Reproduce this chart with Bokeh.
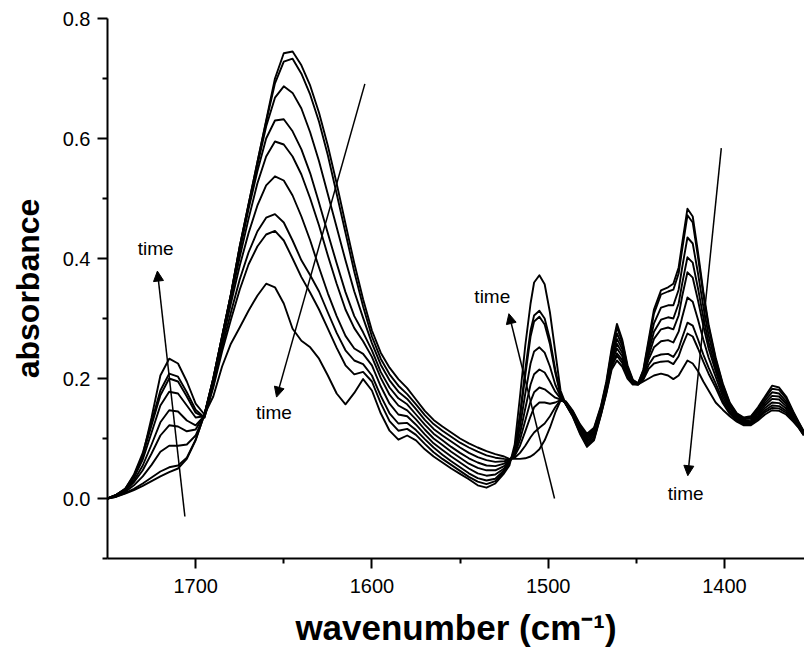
from bokeh.plotting import figure
from bokeh.models import Range1d, FixedTicker, PrintfTickFormatter, Arrow, NormalHead, Label
from bokeh.embed import file_html
from bokeh.resources import INLINE

# wavenumber grid (cm-1)
wavenumber = [1750, 1745, 1740, 1735, 1730, 1725, 1720, 1715, 1710, 1705, 1700,
              1695, 1690, 1685, 1680, 1675, 1670, 1665, 1660, 1655, 1650,
              1645, 1640, 1635, 1630, 1625, 1620, 1615, 1610, 1605, 1600,
              1595, 1590, 1585, 1580, 1575, 1570, 1565, 1560, 1555, 1550,
              1545, 1540, 1535, 1530, 1525,
              1522, 1519, 1516, 1513, 1510, 1508, 1505, 1502, 1499, 1496, 1493,
              1490, 1486, 1482, 1478, 1474, 1470, 1467, 1464, 1461,
              1458, 1455, 1452, 1449, 1446, 1443, 1440,
              1436, 1432, 1429, 1426, 1424, 1421,
              1418, 1415, 1412, 1409, 1405, 1401,
              1397, 1393, 1389, 1385, 1381, 1377,
              1373, 1369, 1365, 1361, 1358, 1355]

spec_1 = [0.000, 0.003, 0.008, 0.014, 0.021, 0.029, 0.037, 0.044, 0.050, 0.066, 0.097,
          0.140, 0.200, 0.270, 0.340, 0.420, 0.490, 0.560, 0.630, 0.700, 0.742,
          0.745, 0.722, 0.688, 0.643, 0.588, 0.525, 0.458, 0.392, 0.332, 0.280,
          0.243, 0.218, 0.199, 0.184, 0.165, 0.146, 0.131, 0.120, 0.110, 0.100,
          0.092, 0.085, 0.079, 0.074, 0.070,
          0.066, 0.066, 0.066, 0.067, 0.070, 0.074, 0.082, 0.097, 0.118, 0.143, 0.163,
          0.162, 0.146, 0.124, 0.108, 0.118, 0.155, 0.195, 0.250, 0.291,
          0.265, 0.222, 0.198, 0.192, 0.215, 0.265, 0.315,
          0.347, 0.352, 0.358, 0.385, 0.425, 0.483,
          0.470, 0.410, 0.345, 0.290, 0.235, 0.192,
          0.160, 0.142, 0.135, 0.137, 0.152, 0.170,
          0.188, 0.185, 0.170, 0.145, 0.128, 0.112]

spec_2 = [0.000, 0.003, 0.009, 0.016, 0.025, 0.035, 0.045, 0.052, 0.055, 0.068, 0.098,
          0.140, 0.200, 0.270, 0.340, 0.420, 0.490, 0.560, 0.628, 0.692, 0.728,
          0.733, 0.708, 0.673, 0.628, 0.572, 0.508, 0.443, 0.378, 0.320, 0.270,
          0.233, 0.207, 0.188, 0.174, 0.157, 0.139, 0.124, 0.113, 0.103, 0.093,
          0.085, 0.078, 0.072, 0.068, 0.066,
          0.065, 0.068, 0.076, 0.088, 0.102, 0.110, 0.118, 0.125, 0.137, 0.152, 0.164,
          0.161, 0.145, 0.122, 0.105, 0.116, 0.153, 0.192, 0.245, 0.285,
          0.261, 0.219, 0.197, 0.192, 0.213, 0.260, 0.308,
          0.340, 0.345, 0.348, 0.375, 0.415, 0.472,
          0.460, 0.402, 0.340, 0.286, 0.232, 0.190,
          0.158, 0.141, 0.134, 0.136, 0.150, 0.167,
          0.183, 0.181, 0.167, 0.143, 0.127, 0.111]

spec_3 = [0.000, 0.004, 0.011, 0.022, 0.037, 0.056, 0.078, 0.088, 0.088, 0.090, 0.105,
          0.140, 0.200, 0.270, 0.340, 0.418, 0.488, 0.555, 0.620, 0.668, 0.687,
          0.676, 0.650, 0.610, 0.562, 0.507, 0.452, 0.397, 0.345, 0.301, 0.259,
          0.223, 0.197, 0.178, 0.166, 0.149, 0.131, 0.116, 0.105, 0.095, 0.085,
          0.076, 0.069, 0.064, 0.061, 0.062,
          0.064, 0.071, 0.088, 0.112, 0.137, 0.152, 0.160, 0.160, 0.158, 0.160, 0.164,
          0.160, 0.143, 0.120, 0.102, 0.113, 0.151, 0.189, 0.240, 0.275,
          0.255, 0.216, 0.196, 0.191, 0.210, 0.252, 0.292,
          0.318, 0.322, 0.322, 0.348, 0.385, 0.435,
          0.425, 0.375, 0.320, 0.272, 0.225, 0.185,
          0.155, 0.139, 0.132, 0.134, 0.147, 0.163,
          0.177, 0.175, 0.162, 0.140, 0.125, 0.110]

spec_4 = [0.000, 0.005, 0.013, 0.027, 0.047, 0.075, 0.105, 0.122, 0.120, 0.112, 0.115,
          0.140, 0.198, 0.268, 0.338, 0.412, 0.482, 0.545, 0.600, 0.630, 0.632,
          0.612, 0.582, 0.542, 0.493, 0.442, 0.392, 0.344, 0.304, 0.277, 0.247,
          0.211, 0.185, 0.167, 0.157, 0.140, 0.123, 0.108, 0.097, 0.086, 0.076,
          0.067, 0.060, 0.055, 0.054, 0.058,
          0.063, 0.073, 0.098, 0.130, 0.162, 0.177, 0.185, 0.182, 0.175, 0.168, 0.165,
          0.159, 0.142, 0.118, 0.099, 0.110, 0.149, 0.186, 0.235, 0.266,
          0.249, 0.213, 0.195, 0.191, 0.207, 0.245, 0.278,
          0.298, 0.302, 0.300, 0.325, 0.358, 0.402,
          0.393, 0.350, 0.302, 0.260, 0.218, 0.180,
          0.152, 0.137, 0.130, 0.131, 0.144, 0.159,
          0.171, 0.170, 0.158, 0.138, 0.123, 0.109]

spec_5 = [0.000, 0.005, 0.014, 0.030, 0.055, 0.090, 0.127, 0.147, 0.145, 0.130, 0.122,
          0.138, 0.196, 0.266, 0.334, 0.402, 0.466, 0.525, 0.570, 0.595, 0.590,
          0.570, 0.540, 0.500, 0.455, 0.405, 0.358, 0.315, 0.284, 0.262, 0.236,
          0.201, 0.173, 0.155, 0.147, 0.132, 0.115, 0.100, 0.089, 0.078, 0.068,
          0.058, 0.051, 0.047, 0.047, 0.054,
          0.062, 0.075, 0.108, 0.150, 0.190, 0.207, 0.215, 0.210, 0.195, 0.178, 0.167,
          0.158, 0.140, 0.116, 0.096, 0.107, 0.147, 0.183, 0.230, 0.258,
          0.243, 0.210, 0.194, 0.191, 0.205, 0.238, 0.266,
          0.282, 0.285, 0.282, 0.305, 0.337, 0.377,
          0.368, 0.330, 0.288, 0.250, 0.212, 0.176,
          0.150, 0.135, 0.128, 0.129, 0.141, 0.155,
          0.166, 0.165, 0.154, 0.135, 0.122, 0.108]

spec_6 = [0.000, 0.006, 0.015, 0.035, 0.065, 0.110, 0.155, 0.178, 0.175, 0.155, 0.135,
          0.137, 0.192, 0.260, 0.325, 0.388, 0.442, 0.488, 0.522, 0.537, 0.530,
          0.505, 0.470, 0.430, 0.385, 0.342, 0.304, 0.271, 0.250, 0.241, 0.222,
          0.187, 0.158, 0.140, 0.137, 0.123, 0.107, 0.092, 0.081, 0.070, 0.060,
          0.050, 0.042, 0.038, 0.040, 0.050,
          0.061, 0.077, 0.120, 0.175, 0.225, 0.245, 0.252, 0.243, 0.220, 0.190, 0.170,
          0.158, 0.139, 0.114, 0.094, 0.104, 0.145, 0.181, 0.226, 0.250,
          0.237, 0.207, 0.193, 0.191, 0.203, 0.232, 0.252,
          0.262, 0.264, 0.260, 0.278, 0.302, 0.335,
          0.328, 0.298, 0.265, 0.235, 0.203, 0.170,
          0.146, 0.133, 0.126, 0.127, 0.138, 0.151,
          0.160, 0.159, 0.150, 0.133, 0.121, 0.107]

spec_7 = [0.000, 0.006, 0.016, 0.038, 0.072, 0.122, 0.172, 0.200, 0.195, 0.170, 0.143,
          0.135, 0.188, 0.252, 0.310, 0.365, 0.410, 0.445, 0.468, 0.474, 0.460,
          0.430, 0.397, 0.372, 0.345, 0.310, 0.276, 0.247, 0.230, 0.224, 0.205,
          0.171, 0.142, 0.125, 0.126, 0.114, 0.099, 0.085, 0.073, 0.062, 0.052,
          0.042, 0.034, 0.030, 0.033, 0.047,
          0.060, 0.080, 0.135, 0.205, 0.270, 0.295, 0.303, 0.290, 0.257, 0.210, 0.172,
          0.157, 0.138, 0.112, 0.091, 0.101, 0.143, 0.179, 0.222, 0.242,
          0.231, 0.204, 0.192, 0.190, 0.200, 0.223, 0.236,
          0.240, 0.241, 0.236, 0.250, 0.268, 0.293,
          0.288, 0.265, 0.240, 0.218, 0.192, 0.164,
          0.143, 0.131, 0.125, 0.125, 0.135, 0.147,
          0.155, 0.154, 0.146, 0.131, 0.120, 0.106]

spec_8 = [0.000, 0.006, 0.016, 0.040, 0.076, 0.128, 0.180, 0.208, 0.203, 0.177, 0.148,
          0.135, 0.185, 0.245, 0.298, 0.348, 0.390, 0.420, 0.440, 0.446, 0.430,
          0.400, 0.369, 0.343, 0.315, 0.283, 0.251, 0.222, 0.207, 0.211, 0.195,
          0.159, 0.129, 0.113, 0.116, 0.106, 0.091, 0.077, 0.066, 0.056, 0.046,
          0.036, 0.028, 0.024, 0.029, 0.044,
          0.060, 0.080, 0.140, 0.215, 0.280, 0.305, 0.313, 0.300, 0.265, 0.215, 0.175,
          0.157, 0.137, 0.110, 0.088, 0.099, 0.141, 0.177, 0.219, 0.238,
          0.226, 0.202, 0.191, 0.190, 0.198, 0.216, 0.225,
          0.228, 0.229, 0.224, 0.237, 0.254, 0.275,
          0.270, 0.250, 0.228, 0.208, 0.185, 0.159,
          0.141, 0.130, 0.124, 0.124, 0.133, 0.144,
          0.151, 0.150, 0.143, 0.130, 0.119, 0.106]

spec_9 = [0.000, 0.006, 0.015, 0.035, 0.072, 0.135, 0.205, 0.233, 0.225, 0.195, 0.158,
          0.140, 0.170, 0.220, 0.258, 0.285, 0.313, 0.338, 0.358, 0.352, 0.325,
          0.283, 0.263, 0.252, 0.233, 0.205, 0.175, 0.157, 0.176, 0.199, 0.180,
          0.142, 0.113, 0.098, 0.105, 0.097, 0.082, 0.070, 0.060, 0.050, 0.041,
          0.032, 0.022, 0.018, 0.025, 0.042,
          0.055, 0.090, 0.170, 0.255, 0.325, 0.360, 0.372, 0.357, 0.310, 0.245, 0.180,
          0.157, 0.136, 0.108, 0.086, 0.097, 0.140, 0.175, 0.215, 0.230,
          0.220, 0.200, 0.190, 0.190, 0.195, 0.200, 0.205,
          0.208, 0.205, 0.199, 0.205, 0.215, 0.230,
          0.225, 0.212, 0.195, 0.180, 0.160, 0.148,
          0.137, 0.128, 0.122, 0.122, 0.130, 0.140,
          0.147, 0.146, 0.140, 0.128, 0.118, 0.105]

spectra = [spec_1, spec_2, spec_3, spec_4, spec_5, spec_6, spec_7, spec_8, spec_9]

y_major = [0.0, 0.2, 0.4, 0.6, 0.8]
y_minor = [-0.1, 0.1, 0.3, 0.5, 0.7]
x_major = [1700, 1600, 1500, 1400]
x_minor = [1650, 1550, 1450]

# "time" arrows: (x_start, y_start, x_end, y_end) and label positions
arrows = [(1706.1, -0.030, 1721.7, 0.379),
          (1604.0, 0.691, 1654.1, 0.169),
          (1496.4, 0.000, 1522.3, 0.308),
          (1401.8, 0.584, 1420.8, 0.038)]
labels = [(1722.7, 0.417), (1655.6, 0.144), (1531.7, 0.336), (1422.0, 0.008)]

FONT = "Liberation Sans"

p = figure(width=804, height=661,
           x_range=Range1d(1750, 1354.6), y_range=Range1d(-0.1, 0.8),
           output_backend="svg", toolbar_location=None,
           min_border_left=107, min_border_right=0,
           min_border_top=18, min_border_bottom=103)
p.outline_line_color = None
p.xgrid.grid_line_color = None
p.ygrid.grid_line_color = None
p.background_fill_color = "white"
p.border_fill_color = "white"

for s in spectra:
    p.line(wavenumber, s, line_color="black", line_width=1.9, line_join="round")

for (x0, y0, x1, y1) in arrows:
    p.add_layout(Arrow(end=NormalHead(size=10, fill_color="black", line_color="black", line_width=1),
                       x_start=x0, y_start=y0, x_end=x1, y_end=y1,
                       line_color="black", line_width=1.5))
for (lx, ly) in labels:
    p.add_layout(Label(x=lx, y=ly, text="time", text_align="center", text_baseline="middle",
                       text_font=FONT, text_font_size="19px", text_color="black"))

for ax in (p.xaxis[0], p.yaxis[0]):
    ax.axis_line_width = 2
    ax.axis_line_color = "black"
    ax.major_tick_line_width = 2
    ax.minor_tick_line_width = 2
    ax.major_tick_out = 10
    ax.major_tick_in = 0
    ax.minor_tick_out = 5
    ax.minor_tick_in = 0
    ax.major_label_text_font = FONT
    ax.major_label_text_font_size = "20px"
    ax.major_label_text_color = "black"
    ax.axis_label_text_font = FONT
    ax.axis_label_text_font_style = "bold"
    ax.axis_label_text_color = "black"

p.yaxis.ticker = FixedTicker(ticks=y_major, minor_ticks=y_minor)
p.yaxis.formatter = PrintfTickFormatter(format="%.1f")
p.yaxis.major_label_standoff = 7
p.yaxis.axis_label = "absorbance"
p.yaxis.axis_label_text_font_size = "32px"
p.yaxis.axis_label_standoff = 14

p.xaxis.ticker = FixedTicker(ticks=x_major, minor_ticks=x_minor)
p.xaxis.major_label_standoff = 10
p.xaxis.axis_label = "wavenumber (cm\u207b\u00b9)"
p.xaxis.axis_label_text_font_size = "35px"
p.xaxis.axis_label_standoff = 12

open("out.html", "w").write(file_html(p, INLINE))
